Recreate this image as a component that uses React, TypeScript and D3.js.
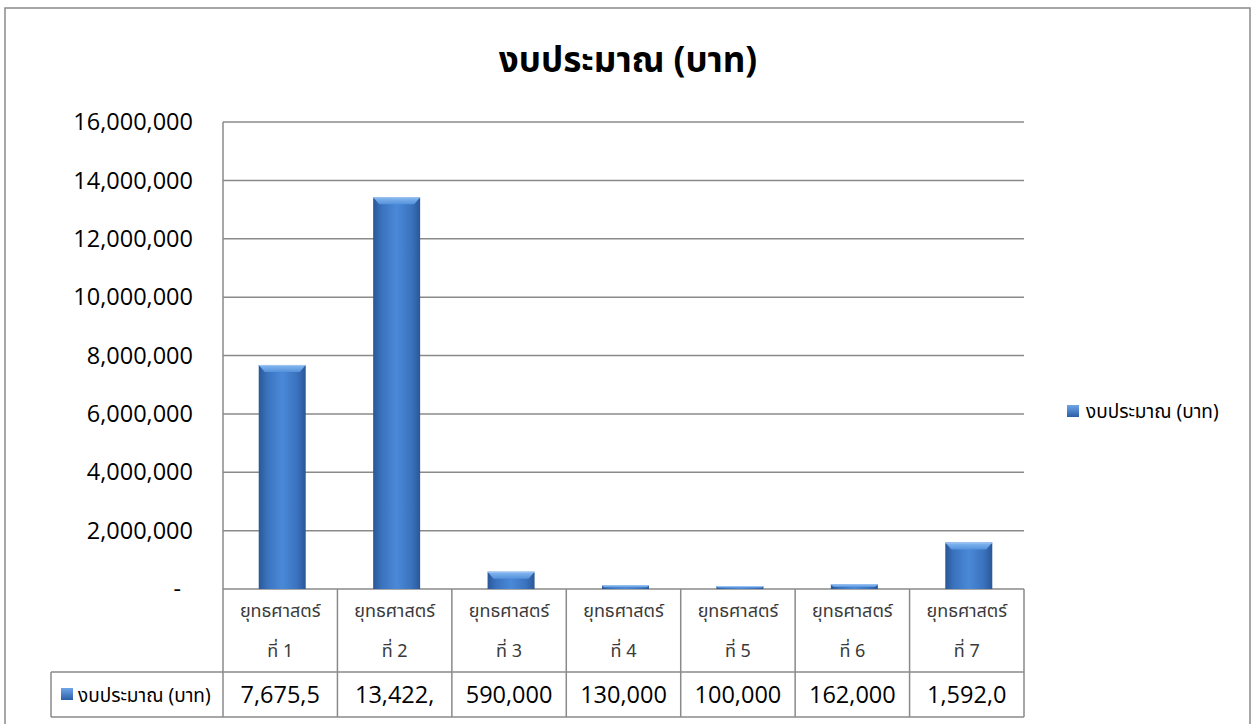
import { useEffect, useRef } from "react";
import * as d3 from "d3";

const categories = ["ที่ 1", "ที่ 2", "ที่ 3", "ที่ 4", "ที่ 5", "ที่ 6", "ที่ 7"];
const categoryPrefix = "ยุทธศาสตร์";
const budget = [7675500, 13422000, 590000, 130000, 100000, 162000, 1592000];
const yTicks = [0, 2000000, 4000000, 6000000, 8000000, 10000000, 12000000, 14000000, 16000000];
const seriesName = "งบประมาณ (บาท)";
const title = "งบประมาณ (บาท)";

const W = 1257;
const H = 724;
const thaiFont = "'Noto Sans Thai', 'Tahoma', 'Loma', 'Garuda', sans-serif";
const numFont = "'Open Sans', sans-serif";

export default function App() {
    const svgRef = useRef<SVGSVGElement>(null);

    useEffect(() => {
        if (!svgRef.current) return;
        const svg = d3.select(svgRef.current);
        svg.selectAll("*").remove();

        const plot = { left: 223, right: 1024, top: 122, bottom: 589 };
        const row1 = 672;
        const row2 = 717;
        const legendCellLeft = 51;

        const x = d3.scaleBand<string>()
            .domain(categories)
            .range([plot.left, plot.right])
            .paddingInner(0)
            .paddingOuter(0);

        const y = d3.scaleLinear()
            .domain([0, 16000000])
            .range([plot.bottom, plot.top]);

        const fmt = d3.format(",");
        const grid = "#8a8a8a";

        // gradients
        const defs = svg.append("defs");
        const grad = defs.append("linearGradient")
            .attr("id", "barGrad")
            .attr("x1", "0").attr("x2", "1").attr("y1", "0").attr("y2", "0");
        grad.append("stop").attr("offset", "0%").attr("stop-color", "#2a5798");
        grad.append("stop").attr("offset", "18%").attr("stop-color", "#3a72bd");
        grad.append("stop").attr("offset", "50%").attr("stop-color", "#4a89d8");
        grad.append("stop").attr("offset", "82%").attr("stop-color", "#3a72bd");
        grad.append("stop").attr("offset", "100%").attr("stop-color", "#2a5798");

        const bevel = defs.append("linearGradient")
            .attr("id", "bevelGrad")
            .attr("x1", "0").attr("x2", "0").attr("y1", "0").attr("y2", "1");
        bevel.append("stop").attr("offset", "0%").attr("stop-color", "#86b9f0");
        bevel.append("stop").attr("offset", "100%").attr("stop-color", "#5592dc");

        const legendGrad = defs.append("linearGradient")
            .attr("id", "legendGrad")
            .attr("x1", "0").attr("x2", "0").attr("y1", "0").attr("y2", "1");
        legendGrad.append("stop").attr("offset", "0%").attr("stop-color", "#6fa6e8");
        legendGrad.append("stop").attr("offset", "100%").attr("stop-color", "#2c5ea6");

        // outer border
        svg.append("rect")
            .attr("x", 5).attr("y", 8)
            .attr("width", 1245).attr("height", 730)
            .attr("fill", "#fff")
            .attr("stroke", grid)
            .attr("stroke-width", 1.5);

        // title
        svg.append("text")
            .attr("x", 628).attr("y", 72)
            .attr("text-anchor", "middle")
            .style("font-family", thaiFont)
            .style("font-size", "35px")
            .style("font-weight", "700")
            .style("fill", "#000")
            .text(title);

        // gridlines
        svg.append("g").selectAll("line")
            .data(yTicks)
            .enter()
            .append("line")
            .attr("x1", plot.left).attr("x2", plot.right)
            .attr("y1", d => y(d)).attr("y2", d => y(d))
            .attr("stroke", grid)
            .attr("stroke-width", 1.5);

        // y tick labels
        svg.append("g").selectAll("text")
            .data(yTicks)
            .enter()
            .append("text")
            .attr("x", d => d === 0 ? 181 : 193)
            .attr("y", d => y(d))
            .attr("dy", "0.35em")
            .attr("text-anchor", "end")
            .style("font-family", numFont)
            .style("font-size", "23.5px")
            .style("fill", "#000")
            .text(d => d === 0 ? "-" : fmt(d));

        // bars
        const barW = 47;
        const bars = svg.append("g").selectAll("g")
            .data(budget)
            .enter()
            .append("g")
            .attr("transform", (_, i) => `translate(${x(categories[i])! + x.bandwidth() / 2 - barW / 2 + 2},0)`);

        bars.append("rect")
            .attr("x", 0)
            .attr("y", d => y(d))
            .attr("width", barW)
            .attr("height", d => plot.bottom - y(d))
            .attr("fill", "url(#barGrad)");

        bars.append("path")
            .attr("d", d => {
                const top = y(d);
                const h = Math.min(7, (plot.bottom - top) * 0.6);
                const inset = Math.min(6, h);
                return `M0,${top} L${barW},${top} L${barW - inset},${top + h} L${inset},${top + h} Z`;
            })
            .attr("fill", "url(#bevelGrad)");

        bars.append("line")
            .attr("x1", 0).attr("x2", barW)
            .attr("y1", d => y(d) + 0.5).attr("y2", d => y(d) + 0.5)
            .attr("stroke", "#9cc4f2")
            .attr("stroke-width", 1);

        // data table lines
        const t = svg.append("g");
        t.append("line")
            .attr("x1", plot.left).attr("x2", plot.left)
            .attr("y1", plot.top).attr("y2", row2)
            .attr("stroke", grid).attr("stroke-width", 1.5);
        categories.forEach(c => {
            const xr = x(c)! + x.bandwidth();
            t.append("line")
                .attr("x1", xr).attr("x2", xr)
                .attr("y1", plot.bottom).attr("y2", row2)
                .attr("stroke", grid).attr("stroke-width", 1.5);
        });
        t.append("line")
            .attr("x1", legendCellLeft).attr("x2", plot.right)
            .attr("y1", row1).attr("y2", row1)
            .attr("stroke", grid).attr("stroke-width", 1.5);
        t.append("line")
            .attr("x1", legendCellLeft).attr("x2", plot.right)
            .attr("y1", row2).attr("y2", row2)
            .attr("stroke", grid).attr("stroke-width", 1.5);
        t.append("line")
            .attr("x1", legendCellLeft).attr("x2", legendCellLeft)
            .attr("y1", row1).attr("y2", row2)
            .attr("stroke", grid).attr("stroke-width", 1.5);

        // category labels
        categories.forEach(c => {
            const cx = x(c)! + x.bandwidth() / 2;
            t.append("text")
                .attr("x", cx).attr("y", 617)
                .attr("text-anchor", "middle")
                .style("font-family", thaiFont)
                .style("font-size", "18px")
                .style("fill", "#3a3a3a")
                .text(categoryPrefix);
            t.append("text")
                .attr("x", cx).attr("y", 657)
                .attr("text-anchor", "middle")
                .style("font-family", thaiFont)
                .style("font-size", "18px")
                .style("fill", "#3a3a3a")
                .text(c);
        });

        // values, cut short to fit the cell as the spreadsheet does
        budget.forEach((v, i) => {
            const cx = x(categories[i])! + x.bandwidth() / 2;
            const el = t.append("text")
                .attr("x", cx).attr("y", (row1 + row2) / 2)
                .attr("dy", "0.36em")
                .attr("text-anchor", "middle")
                .style("font-family", numFont)
                .style("font-size", "23.5px")
                .style("fill", "#000");
            let s = fmt(v);
            el.text(s);
            const node = el.node() as SVGTextElement;
            while (s.length > 1 && node.getComputedTextLength() > x.bandwidth() - 26) {
                s = s.slice(0, -1);
                el.text(s);
            }
        });

        // legend key in table
        t.append("rect")
            .attr("x", 61).attr("y", 688)
            .attr("width", 12).attr("height", 12)
            .attr("fill", "url(#legendGrad)");
        t.append("text")
            .attr("x", 78).attr("y", 695)
            .attr("dy", "0.35em")
            .style("font-family", thaiFont)
            .style("font-size", "19px")
            .style("fill", "#000")
            .text(seriesName);

        // right legend
        const lg = svg.append("g").attr("transform", "translate(1067,405)");
        lg.append("rect")
            .attr("width", 12).attr("height", 12)
            .attr("fill", "url(#legendGrad)");
        lg.append("text")
            .attr("x", 19).attr("y", 6)
            .attr("dy", "0.35em")
            .style("font-family", thaiFont)
            .style("font-size", "19px")
            .style("fill", "#000")
            .text(seriesName);
    }, []);

    return (
        <svg
            ref={svgRef}
            width={W}
            height={H}
            style={{ position: "absolute", left: 0, top: 0, display: "block", background: "#fff" }}
        />
    );
}
